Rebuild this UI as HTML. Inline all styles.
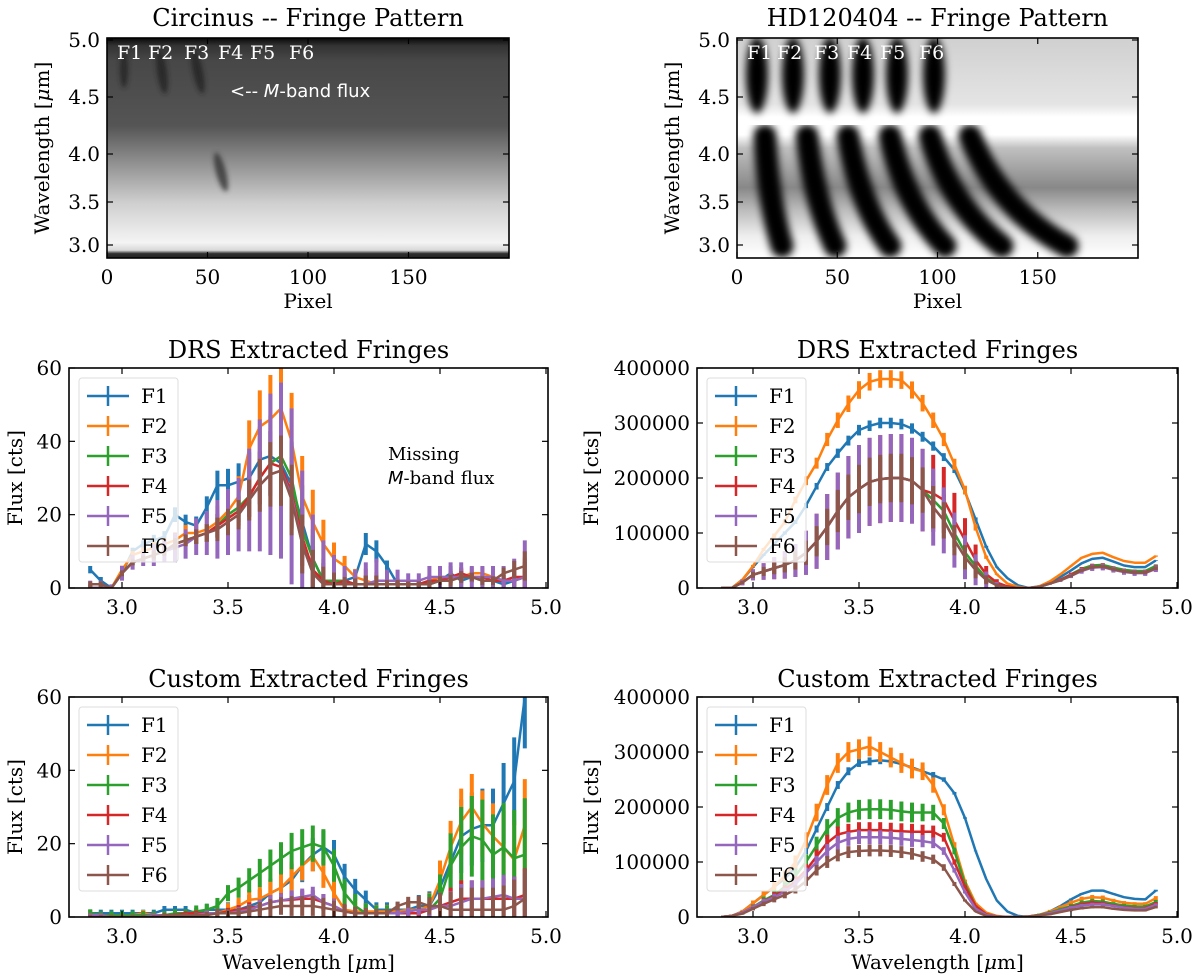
<!DOCTYPE html>
<html><head><meta charset="utf-8"><style>
body{margin:0;background:#fff}
svg{display:block;font-family:"DejaVu Serif","Liberation Serif",serif}
</style></head><body>
<svg id="fig" width="1200" height="979" viewBox="0 0 1200 979" xmlns="http://www.w3.org/2000/svg">
<defs>
<filter id="blur2"><feGaussianBlur stdDeviation="2.5"/></filter>
<filter id="blur4"><feGaussianBlur stdDeviation="4"/></filter>
<linearGradient id="gcirc" x1="0" y1="0" x2="0" y2="1">
<stop offset="0" stop-color="#080808"/><stop offset="0.035" stop-color="#333"/><stop offset="0.1" stop-color="#474747"/><stop offset="0.4" stop-color="#555"/><stop offset="0.55" stop-color="#8a8a8a"/><stop offset="0.75" stop-color="#cfcfcf"/><stop offset="0.93" stop-color="#f4f4f4"/><stop offset="0.965" stop-color="#d8d8d8"/><stop offset="0.98" stop-color="#303030"/><stop offset="1" stop-color="#222"/>
</linearGradient>
<linearGradient id="ghd" x1="0" y1="0" x2="0" y2="1">
<stop offset="0" stop-color="#d0d0d0"/><stop offset="0.3" stop-color="#e4e4e4"/><stop offset="0.36" stop-color="#fff"/><stop offset="0.44" stop-color="#fff"/><stop offset="0.5" stop-color="#c0c0c0"/><stop offset="0.68" stop-color="#888"/><stop offset="0.78" stop-color="#bbb"/><stop offset="0.9" stop-color="#eee"/><stop offset="1" stop-color="#fff"/>
</linearGradient>
<clipPath id="cTL"><rect x="107" y="38" width="402" height="220"/></clipPath>
<clipPath id="cTR"><rect x="737" y="38" width="401" height="220"/></clipPath>
</defs>

<g clip-path="url(#cTL)">
<rect x="107" y="38" width="402" height="220" fill="url(#gcirc)"/>
<g filter="url(#blur2)" fill="#222" opacity="0.8">
<ellipse cx="124" cy="70" rx="4" ry="18"/>
<ellipse cx="162" cy="72" rx="5" ry="22" transform="rotate(-8 162 72)"/>
<ellipse cx="198" cy="72" rx="5" ry="22" transform="rotate(-12 198 72)"/>
<ellipse cx="221" cy="172" rx="5" ry="20" transform="rotate(-15 221 172)" fill="#333"/>
</g>
</g>
<g fill="#fff" font-size="19">
<text x="117" y="59">F1</text><text x="148" y="59">F2</text><text x="184" y="59">F3</text><text x="218" y="59">F4</text><text x="250" y="59">F5</text><text x="289" y="59">F6</text>
<text x="230" y="97" font-family="DejaVu Sans,sans-serif" font-size="18">&lt;-- <tspan font-style="italic">M</tspan>-band flux</text>
</g>

<g clip-path="url(#cTR)">
<rect x="737" y="38" width="401" height="220" fill="url(#ghd)"/>
<g filter="url(#blur4)" fill="#000">
<ellipse cx="757" cy="75" rx="11" ry="38"/><ellipse cx="793" cy="75" rx="11" ry="38"/><ellipse cx="830" cy="75" rx="11" ry="38"/><ellipse cx="863" cy="75" rx="11" ry="38"/><ellipse cx="897" cy="75" rx="11" ry="38"/><ellipse cx="934" cy="75" rx="11" ry="38"/>
</g>
<g filter="url(#blur4)" stroke="#000" stroke-width="23" fill="none" stroke-linecap="round">
<path d="M765 136 Q768 200 782 246"/><path d="M807 136 Q814 200 835 246"/><path d="M848 136 Q860 205 890 246"/><path d="M890 136 Q905 205 945 246"/><path d="M930 136 Q950 205 1002 246"/><path d="M970 136 Q1000 210 1067 246"/>
</g>
</g>
<g fill="#fff" font-size="19">
<text x="747" y="59">F1</text><text x="777" y="59">F2</text><text x="814" y="59">F3</text><text x="847" y="59">F4</text><text x="880" y="59">F5</text><text x="919" y="59">F6</text>
</g>

<g id="dyn"></g>
</svg>
<script>
const wavelengths = [2.85,2.90,2.95,3.00,3.05,3.10,3.15,3.20,3.25,3.30,3.35,3.40,3.45,3.50,3.55,3.60,3.65,3.70,3.75,3.80,3.85,3.90,3.95,4.00,4.05,4.10,4.15,4.20,4.25,4.30,4.35,4.40,4.45,4.50,4.55,4.60,4.65,4.70,4.75,4.80,4.85,4.90];
const fringeNames = ["F1","F2","F3","F4","F5","F6"];
const fluxTicksCirc = [0,20,40,60];
const fluxTicksHD = [0,100000,200000,300000,400000];
const waveTicks = [3.0,3.5,4.0,4.5,5.0];
const pixelTicks = [0,50,100,150];
const imgWaveTicks = [3.0,3.5,4.0,4.5,5.0];

// DRS Circinus
const drsCircF1 = [5,2,0,4,10,12,13,14,20,18,17,22,28,28,29,30,35,36,34,28,18,8,2,1,2,3,12,10,6,1,1,1,1,2,4,2,3,2,2,1,2,3];
const drsCircF2 = [0,0,0,5,9,10,11,12,13,15,15,16,18,21,25,38,44,46,49,40,25,18,12,8,6,3,2,1,1,1,1,1,2,3,3,3,4,4,3,2,2,3];
const drsCircF3 = [0,0,0,4,7,8,9,10,12,13,14,15,17,20,22,25,30,34,36,30,16,8,2,2,2,1,1,1,1,1,1,1,2,2,3,3,3,2,2,2,2,3];
const drsCircF4 = [0,0,0,4,7,8,9,10,12,13,14,15,17,19,21,25,30,34,33,26,14,5,2,1,2,1,1,1,1,1,1,1,2,2,3,4,3,3,2,2,3,3];
const drsCircF5 = [0,0,0,4,7,8,9,10,11,12,14,15,16,18,20,24,28,31,32,25,12,4,1,1,1,1,1,2,2,2,2,2,3,3,3,3,3,3,3,2,2,3];
const drsCircF6 = [1,1,0,4,7,8,9,10,12,13,14,15,16,18,20,24,28,31,32,24,12,4,1,1,1,1,1,1,1,1,1,1,1,2,2,3,3,2,2,4,5,6];
const drsCircErr = [2,2,1,2,2,2,3,3,4,4,5,6,8,9,10,14,18,22,24,24,20,16,12,8,5,4,6,6,3,3,2,2,3,3,4,4,3,3,3,4,6,10];
const drsCircErrScale = [0.5,0.55,0.4,0.4,1.0,0.4];

// DRS HD120404
const drsHDF1 = [0,0,15000,38000,60000,80000,100000,120000,150000,185000,220000,245000,268000,287000,295000,300000,300000,298000,290000,275000,258000,238000,215000,175000,125000,75000,38000,18000,5000,0,3000,10000,20000,32000,45000,53000,55000,48000,41000,38000,38000,50000];
const drsHDF2 = [0,0,15000,40000,70000,95000,120000,160000,195000,227000,270000,305000,335000,360000,375000,380000,380000,378000,360000,336000,305000,270000,225000,178000,110000,56000,25000,8000,2000,0,3000,12000,25000,40000,55000,62000,64000,56000,49000,46000,46000,58000];
const drsHDF3 = [0,0,10000,24000,30000,36000,42000,50000,64000,85000,111000,140000,165000,180000,193000,198000,200000,200000,195000,178000,160000,140000,100000,65000,40000,18000,6000,1000,0,0,2000,8000,15000,25000,35000,41000,42000,37000,33000,31000,31000,40000];
const drsHDF4 = [0,0,10000,24000,30000,36000,42000,50000,64000,85000,111000,140000,165000,180000,193000,198000,200000,200000,195000,178000,172000,160000,123000,87000,51000,25000,10000,3000,0,0,2000,8000,15000,24000,33000,38000,39000,34000,30000,28000,28000,36000];
const drsHDF5 = [0,0,10000,24000,30000,36000,42000,50000,64000,85000,111000,140000,165000,180000,193000,198000,200000,200000,195000,178000,147000,123000,87000,56000,33000,15000,5000,1000,0,0,2000,8000,14000,22000,31000,37000,38000,33000,29000,27000,27000,35000];
const drsHDF6 = [0,0,10000,24000,30000,36000,42000,50000,64000,85000,111000,140000,165000,180000,193000,198000,200000,200000,195000,178000,147000,123000,87000,56000,33000,15000,5000,1000,0,0,2000,8000,14000,22000,32000,38000,39000,34000,30000,28000,28000,36000];
const drsHDErr = [0,1000,5000,10000,15000,20000,25000,30000,40000,50000,60000,70000,75000,80000,80000,80000,80000,80000,78000,75000,70000,60000,50000,40000,28000,15000,6000,2000,0,0,1000,2000,3000,4000,5000,6000,6000,5000,5000,5000,5000,6000];
const drsHDErrScale = [0.12,0.2,0.5,1.0,1.0,0.55];

// Custom Circinus
const cusCircF1 = [1,1,1,1,1,1,1,2,2,2,1,2,2,2,2,3,4,6.5,8,10,14,17,19,17,11,7.4,4.7,2,2,2,2,3,3,8,15,22,24,25,25,31,37,60];
const cusCircF2 = [1,0.5,0.5,0.5,0.5,1,0.5,0.5,0.5,0.5,0.5,1,1,2,3,4.7,5,6.5,8,11,14,16.5,12,6.5,2,1.5,1.5,1.5,1.5,1.5,2,2,3,10,19,26,30,25.5,22,19,15.6,25];
const cusCircF3 = [1,0.5,0.5,0.5,0.5,0.5,0.5,0.5,1,1,1.5,2,3,6.5,8,10,12,14,16,18,19,20,19,14,6.5,3,1,1,1,1,1,1,2,5,14,19,22,21,17,19,16,17];
const cusCircF4 = [0.5,0.5,0,0,0,0,0.5,0.5,0.5,1,1,1,1,1.5,2,2.5,3,4,4.5,4.7,5,5,4,3,1.5,1,1,1,1,1,1,1,2,3,4,5,5,5,5,5,5,6];
const cusCircF5 = [0.5,0.5,0,0,0,0,0.5,0.5,0.5,0.5,0.5,1,1,1,1.5,2,3,4,4.5,5,5.5,6,4,3,1.5,1,1,1,1,1,1.5,2,2,3,3,4,5,5,5.5,6,5,5];
const cusCircF6 = [0,0,0,0,0,0,0,0.5,0.5,0.5,0.5,0.5,1,1,1,1.5,2,2.5,3,3,3,3,2.5,2,1.5,1,1,1,1,3,4,4,3,3,2,2,2,2,2,2,3,5];
const cusCircErr = [1,1,1,1,1,1,1,1,1,1,1.5,1.5,2,2,2.5,3,3.5,4,4,4.5,4.5,4.5,4.5,4,3.5,3,2.5,2,2,2,2.5,3,4,6,8,10,10,10,10,11,12,14];
const cusCircErrScale = [1.0,0.9,1.1,0.5,0.5,0.6];

// Custom HD120404
const cusHDF1 = [0,2000,10000,25000,40000,55000,70000,90000,120000,160000,200000,240000,265000,280000,283000,285000,283000,278000,272000,265000,258000,250000,225000,180000,120000,69000,30000,10000,2000,0,3000,10000,20000,32000,42000,48000,48000,42000,36000,33000,32000,48000];
const cusHDF2 = [0,2000,10000,25000,40000,55000,75000,100000,140000,190000,240000,280000,300000,305000,310000,300000,290000,280000,270000,265000,240000,195000,130000,65000,25000,8000,2000,0,0,1000,4000,10000,18000,26000,33000,36000,35000,30000,26000,24000,24000,34000];
const cusHDF3 = [0,2000,8000,18000,30000,40000,55000,75000,100000,130000,160000,180000,190000,195000,196000,196000,195000,192000,190000,190000,190000,170000,120000,60000,20000,5000,1000,0,0,1000,4000,8000,14000,20000,26000,29000,28000,24000,21000,19000,19000,27000];
const cusHDF4 = [0,2000,8000,18000,28000,38000,50000,65000,85000,110000,135000,150000,155000,158000,158000,158000,157000,156000,155000,155000,155000,145000,100000,55000,20000,5000,1000,0,0,1000,3000,7000,12000,18000,23000,26000,25000,21000,18000,16000,16000,24000];
const cusHDF5 = [0,2000,8000,18000,28000,36000,46000,60000,80000,100000,120000,135000,142000,145000,145000,145000,144000,142000,140000,138000,135000,120000,85000,45000,15000,4000,1000,0,0,1000,3000,7000,12000,17000,21000,23000,23000,20000,17000,15000,15000,22000];
const cusHDF6 = [0,2000,6000,15000,24000,32000,40000,50000,65000,85000,100000,112000,118000,120000,121000,121000,120000,118000,115000,110000,105000,90000,60000,30000,10000,2000,0,0,0,1000,3000,5000,9000,13000,16000,18000,18000,15000,13000,12000,12000,18000];
const cusHDErr = [0,1000,3000,5000,7000,9000,10000,12000,14000,16000,18000,18000,18000,18000,18000,18000,18000,18000,18000,16000,14000,10000,6000,3000,1000,0,0,0,0,1000,2000,3000,3000,4000,4000,4000,4000,3000,3000,3000,3000,4000];
const cusHDErrScale = [0.4,1.0,1.0,0.8,0.7,0.6];

const colors = ["#1f77b4","#ff7f0e","#2ca02c","#d62728","#9467bd","#8c564b"];
const NS = "http://www.w3.org/2000/svg";
const root = document.getElementById("dyn");
function mk(tag, attrs, parent, text){
  const e = document.createElementNS(NS, tag);
  for (const k in attrs) e.setAttribute(k, attrs[k]);
  if (text !== undefined) e.textContent = text;
  (parent || root).appendChild(e);
  return e;
}
function frame(g, L, R, T, B){
  const r = mk("rect", {x:L, y:T, width:R-L, height:B-T, fill:"none", stroke:"#000", "stroke-width":1.6}, g);
  
  
}
function xTicks(g, L, R, T, B, ticks, xf, fmt){
  ticks.forEach(t => {
    const x = xf(t);
    mk("line", {x1:x, x2:x, y1:B, y2:B-6, stroke:"#000", "stroke-width":1.2}, g);
    mk("line", {x1:x, x2:x, y1:T, y2:T+6, stroke:"#000", "stroke-width":1.2}, g);
    const lb = mk("text", {x:x, y:B+26, "text-anchor":"middle", "font-size":20}, g, fmt(t));
    
    
  });
}
function yTicks(g, L, R, ticks, yf, fmt){
  ticks.forEach(t => {
    const y = yf(t);
    mk("line", {x1:L, x2:L+6, y1:y, y2:y, stroke:"#000", "stroke-width":1.2}, g);
    mk("line", {x1:R, x2:R-6, y1:y, y2:y, stroke:"#000", "stroke-width":1.2}, g);
    const lb = mk("text", {x:L-7, y:y+7, "text-anchor":"end", "font-size":20}, g, fmt(t));
    
    
  });
}
function title(g, x, y, s){
  const t = mk("text", {x:x, y:y, "text-anchor":"middle", "font-size":24}, g, s);
  
  
}
function ylabel(g, x, y, s){
  const t = mk("text", {x:x, y:y, "text-anchor":"middle", "font-size":20, transform:`rotate(-90 ${x} ${y})`}, g);
  
  
  if (s === "wave"){
    t.appendChild(document.createTextNode("Wavelength ["));
    mk("tspan", {"font-style":"italic"}, t, "μ");
    t.appendChild(document.createTextNode("m]"));
  } else t.textContent = s;
}
function xlabel(g, x, y, s){
  const t = mk("text", {x:x, y:y, "text-anchor":"middle", "font-size":20}, g);
  
  
  if (s === "wave"){
    t.appendChild(document.createTextNode("Wavelength ["));
    mk("tspan", {"font-style":"italic"}, t, "μ");
    t.appendChild(document.createTextNode("m]"));
  } else t.textContent = s;
}

function imgPanel(L, R, T, B, ttl){
  const g = mk("g", {});
  
  
  frame(g, L, R, T, B);
  const xf = p => L + p * (R - L) / 200;
  const kw = [5.0,4.5,4.0,3.5,3.0,2.88], ky = [40,97,154,202,245,258];
  const yf = w => { for (let i=0;i<kw.length-1;i++){ if (w<=kw[i] && w>=kw[i+1]) return ky[i]+(kw[i]-w)/(kw[i]-kw[i+1])*(ky[i+1]-ky[i]); } return ky[0]; };
  xTicks(g, L, R, T, B, pixelTicks, xf, t => String(t));
  yTicks(g, L, R, imgWaveTicks, yf, t => t.toFixed(1));
  title(g, (L+R)/2, 26, ttl);
  xlabel(g, (L+R)/2, 308, "Pixel");
  ylabel(g, L-58, (T+B)/2, "wave");
}
imgPanel(107, 509, 38, 258, "Circinus -- Fringe Pattern");
imgPanel(737, 1138, 38, 258, "HD120404 -- Fringe Pattern");

let clipN = 0;
function linePanel(o){
  const g = mk("g", {});
  
  
  const xf = w => o.x3 + (w - 3.0) * o.pxPerUm;
  const yf = v => o.B - v / o.ymax * (o.B - o.T);
  const cid = "clp" + (clipN++);
  const cp = mk("clipPath", {id:cid}, g);
  mk("rect", {x:o.L, y:o.T, width:o.R-o.L, height:o.B-o.T}, cp);
  const plot = mk("g", {"clip-path":`url(#${cid})`}, g);
  o.series.forEach((s, si) => {
    const sg = mk("g", {}, plot);
    
    
    s.forEach((v, i) => {
      const e = o.err[i] * o.errScale[si];
      const eb = mk("line", {x1:xf(wavelengths[i]), x2:xf(wavelengths[i]), y1:yf(v+e), y2:yf(Math.max(0, v-e)), stroke:colors[si], "stroke-width":4}, sg);
      
      
    });
    const d = s.map((v, i) => (i ? "L" : "M") + xf(wavelengths[i]).toFixed(1) + " " + yf(v).toFixed(1)).join(" ");
    const ln = mk("path", {d:d, fill:"none", stroke:colors[si], "stroke-width":2.5, "stroke-linejoin":"round"}, sg);
    
    
  });
  frame(g, o.L, o.R, o.T, o.B);
  xTicks(g, o.L, o.R, o.T, o.B, waveTicks, xf, t => t.toFixed(1));
  yTicks(g, o.L, o.R, o.yticks, yf, t => String(t));
  title(g, (o.L+o.R)/2, o.T-10, o.title);
  ylabel(g, o.ylx, (o.T+o.B)/2, "Flux [cts]");
  if (o.xlab) xlabel(g, (o.L+o.R)/2, o.B+52, "wave");
  const lg = mk("g", {}, g);
  
  
  const lx = o.L + 10, ly = o.T + 10;
  mk("rect", {x:lx, y:ly, width:99, height:184, rx:3, fill:"#fff", "fill-opacity":0.8, stroke:"#ddd"}, lg);
  fringeNames.forEach((n, i) => {
    const y = ly + 18 + i * 30;
    const en = mk("g", {}, lg);
    
    
    mk("line", {x1:lx+8, x2:lx+50, y1:y, y2:y, stroke:colors[i], "stroke-width":2.5}, en);
    mk("line", {x1:lx+29, x2:lx+29, y1:y-10, y2:y+10, stroke:colors[i], "stroke-width":2.5}, en);
    mk("text", {x:lx+62, y:y+7, "font-size":20}, en, n);
  });
  return g;
}

const gDL = linePanel({name:"drs-circinus-panel", L:69, R:548, T:368, B:588, x3:122, pxPerUm:212, ymax:60, yticks:fluxTicksCirc, title:"DRS Extracted Fringes", ylx:22,
  series:[drsCircF1,drsCircF2,drsCircF3,drsCircF4,drsCircF5,drsCircF6], err:drsCircErr, errScale:drsCircErrScale});
const ann = mk("text", {x:388, y:460, "font-size":18}, gDL, "Missing");


const ann2 = mk("text", {x:388, y:484, "font-size":18}, gDL);
mk("tspan", {"font-style":"italic","font-family":"DejaVu Sans,sans-serif"}, ann2, "M");
ann2.appendChild(document.createTextNode("-band flux"));

linePanel({name:"drs-hd120404-panel", L:697, R:1178, T:368, B:588, x3:753, pxPerUm:212, ymax:400000, yticks:fluxTicksHD, title:"DRS Extracted Fringes", ylx:598,
  series:[drsHDF1,drsHDF2,drsHDF3,drsHDF4,drsHDF5,drsHDF6], err:drsHDErr, errScale:drsHDErrScale});
linePanel({name:"custom-circinus-panel", L:69, R:548, T:697, B:917, x3:122, pxPerUm:212, ymax:60, yticks:fluxTicksCirc, title:"Custom Extracted Fringes", ylx:22, xlab:true,
  series:[cusCircF1,cusCircF2,cusCircF3,cusCircF4,cusCircF5,cusCircF6], err:cusCircErr, errScale:cusCircErrScale});
linePanel({name:"custom-hd120404-panel", L:697, R:1178, T:697, B:917, x3:753, pxPerUm:212, ymax:400000, yticks:fluxTicksHD, title:"Custom Extracted Fringes", ylx:598, xlab:true,
  series:[cusHDF1,cusHDF2,cusHDF3,cusHDF4,cusHDF5,cusHDF6], err:cusHDErr, errScale:cusHDErrScale});
</script>
</body></html>
